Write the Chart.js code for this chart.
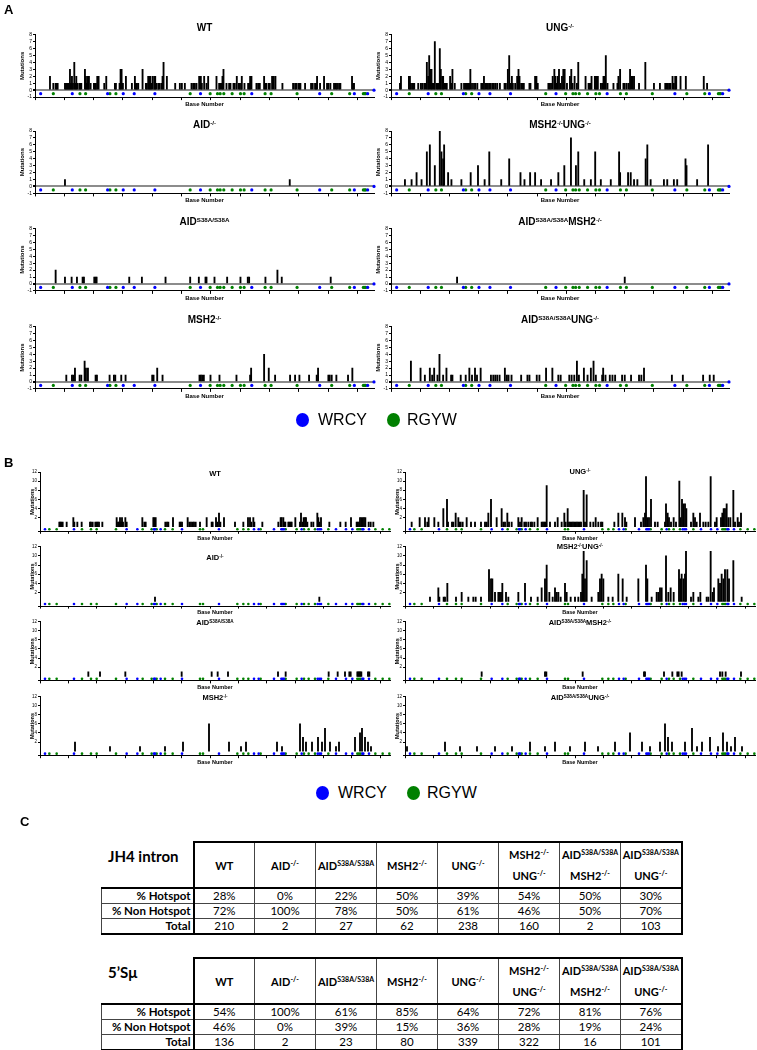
<!DOCTYPE html>
<html>
<head>
<meta charset="utf-8">
<script src="https://cdn.jsdelivr.net/npm/chart.js@4.4.1/dist/chart.umd.min.js"></script>
<style>
  html, body { margin: 0; padding: 0; background: #fff; }
  body { position: relative; width: 757px; height: 1050px; overflow: hidden; font-family: "Liberation Sans", Arial, sans-serif; }
  canvas { position: absolute; }
  .ttl { position: absolute; transform: translate(-50%, -50%); font-weight: bold; white-space: nowrap; line-height: 1; }
  .ttl sup { font-size: 62%; vertical-align: 0.5em; line-height: 0; }
  .panel { position: absolute; font-weight: bold; font-size: 13px; line-height: 1; }
  .legend { position: absolute; height: 20px; font-size: 16px; line-height: 20px; }
  .legend i { position: absolute; top: 3px; width: 13px; height: 14px; border-radius: 50%; }
  .legend span { position: absolute; top: 0; }
  .tname { position: absolute; font-family: Lato, "Open Sans", sans-serif; font-weight: bold; font-size: 15px; line-height: 1; white-space: nowrap; }
  table.pct { position: absolute; border-collapse: collapse; font-family: Lato, "Open Sans", sans-serif; font-size: 11.5px; table-layout: fixed; }
  table.pct td, table.pct th { border: 1px solid #444; padding: 0; text-align: center; white-space: nowrap; }
  table.pct td { height: 14px; line-height: 14px; }
  table.pct th { font-size: 11px; line-height: 21px; height: 44px; border-bottom: 2px solid #000; }
  table.pct th sup { font-size: 7px; vertical-align: 4px; line-height: 0; }
  table.pct td.lab { text-align: right; font-weight: bold; padding-right: 2px; border-right: 2px solid #000; }
  table.pct th.lab { border: none; border-right: 2px solid #000; border-bottom: 2px solid #000; }
  table.pct tr:first-child th:not(.lab) { border-top: 2px solid #000; }
  table.pct th:last-child, table.pct td:last-child { border-right: 2px solid #000; }
  table.pct tr:last-child td { border-bottom: 2px solid #000; }
</style>
</head>
<body>

<script>
// hotspot motifs along the JH4 intron (panel A) and 5'Sμ (panel B), in base numbers
const wrcyA = [8.5, 56, 109, 132.5, 149, 180, 248.5, 325.5, 427.5, 479.5, 499.5];
const rgywA = [27.5, 67.5, 76, 112.5, 121.5, 233, 263, 274, 278, 283.5, 296, 308.5, 314, 345.5, 354.5, 393.5, 445.5, 472.5, 493, 495, 496.5];
const wrcyAEnd = [509];
const wrcyB = [7.5, 51, 130, 146, 171, 172.5, 181, 213, 268.5, 321, 328, 351, 362, 364, 366, 392.5, 416.5, 419, 421.5, 444, 459, 468.5, 483.5, 485, 493.5];
const rgywB = [14, 25, 63, 76.5, 85, 114, 154, 167.5, 175, 187.5, 199, 240, 244.5, 296, 305, 312.5, 331, 368.5, 385, 396, 403, 412.5, 432.5, 476, 478.5, 481, 503, 514, 524];

// mutations per base, panel A (JH4 intron): [base, count]
const jh4WT = [[22.5,2],[27.5,1],[31,1],[32.5,1],[34,1],[45,1],[46.5,1],[48,1],[49.5,1],[51,1],[52.5,3],[54,1],[55.5,2],[57,1],[59,4],[60.5,1],[62,2],[63.5,1],[66.5,1],[68,1],[69.5,1],[75,3],[76.5,2],[78,1],[79.5,2],[81,2],[83.5,1],[88.5,1],[90,1],[91.5,1],[93.5,2],[95.5,2],[104,1],[107,2],[120,1],[121.5,1],[127,1],[128.5,3],[130,3],[132,1],[136.5,2],[145.5,1],[150,2],[151.5,1],[153,1],[155,1],[161.5,3],[166.5,1],[168,1],[170,2],[171.5,2],[173,2],[174.5,1],[176.5,2],[179,2],[180.5,2],[182,1],[185,1],[186.5,1],[189.5,1],[191.5,2],[193,4],[198,2],[210.5,1],[217.5,1],[220.5,1],[225,1],[235,1],[237.5,1],[240,1],[242.5,1],[246.5,2],[249,2],[250.5,1],[254,2],[257.5,1],[260,2],[272.5,2],[276.5,1],[278,1],[280,1],[281.5,2],[283,3],[287.5,1],[291.5,1],[293.5,1],[298,1],[300,1],[303,2],[306,1],[307.5,1],[309.5,1],[310.5,2],[314.5,1],[320,1],[322,1],[323,2],[325,2],[332.5,1],[335,1],[337.5,1],[344,2],[346,1],[347.5,1],[351,1],[352.5,1],[356,2],[358.5,2],[361,2],[371.5,1],[387.5,1],[390.5,1],[392.5,1],[395.5,1],[397.5,1],[398.5,1],[405.5,1],[414.5,1],[417,1],[420.5,1],[422,1],[423.5,2],[428,1],[434,2],[438.5,1],[440.5,1],[443.5,1],[449,1],[451.5,1],[453.5,1],[456.5,1],[458.5,1],[476,2],[477.5,1],[479,1]];
const jh4UNG = [[13.5,1],[15,2],[27,2],[28.5,2],[30,1],[32,1],[33.5,1],[35,1],[41,1],[45,1],[47,1],[50,1],[52,1],[54,4],[56,2],[57.5,5],[59.5,3],[61,3],[62.5,1],[64.5,1],[66,7],[68.5,1],[70,1],[71.5,1],[73.5,6],[75,3],[77,2],[78.5,2],[80,1],[82.5,1],[84,1],[89,2],[91,1],[92.5,3],[96,1],[106,1],[110,1],[112,1],[113.5,1],[115,1],[116.5,1],[118,1],[119.5,3],[122,1],[125,1],[127,1],[130,1],[136,1],[138,1],[140,2],[142,1],[144,1],[146,1],[148,1],[150,1],[152.5,1],[155,1],[157.5,1],[160,1],[164,1],[171,1],[173,1],[176,3],[178,5],[180,1],[182,2],[183.5,1],[187,1],[190,2],[192,3],[193.5,2],[196,1],[198.5,1],[200,1],[208.5,1],[210,1],[217,2],[219,2],[221,1],[237,1],[239,1],[241,1],[243.5,2],[246,3],[247.5,2],[249.5,1],[251,2],[253,3],[255,1],[257.5,2],[259.5,3],[261.5,3],[265,1],[269.5,2],[271.5,3],[273.5,1],[276.5,2],[280,1],[282,4],[293,2],[297.5,1],[299,1],[300.5,1],[302,2],[307,2],[308.5,2],[310,2],[311.5,2],[316,1],[318,1],[320,2],[321.5,2],[323.5,5],[326,1],[335,1],[341,1],[342.5,2],[345,3],[350,1],[352,1],[355,1],[358,1],[360,3],[362,2],[364,2],[366,2],[373.5,1],[383,4],[396,1],[405,1],[413,1],[415,1],[417,1],[419,1],[421,1],[424,2],[426,1],[428,2],[429.5,2],[436,2],[444,2],[471,2],[476,1]];
const jh4AID = [[45,1],[382.5,1]];
const jh4MSH2UNG = [[21,1],[31,1],[38.5,2],[46,1],[54,5],[58.5,6],[66,3],[73.5,8],[76,5],[78.5,4],[80,6],[86,2],[91,1],[106,1],[120,2],[131,3],[141,1],[148,5],[166,1],[178,4],[195,2],[201,1],[209.5,2],[217,2],[226,1],[241,1],[252,2],[261,3],[271,7],[278.5,3],[282,5],[291,1],[301,1],[307.5,5],[316,1],[331,1],[343.5,5],[345,2],[357,2],[361,2],[366,1],[371,1],[383.5,4],[386,6],[391,1],[411,1],[416,1],[426,1],[431,1],[443.5,4],[445,3],[461,1],[477.5,6]];
const jh4S38A = [[31,2],[45,1],[55,1],[63,1],[71.5,1],[73.5,1],[89,1],[91,1],[92.5,1],[141.5,1],[160.5,1],[196,1],[233,1],[246,1],[256,1],[257.5,1],[269.5,1],[288.5,1],[308.5,1],[319.5,1],[321.5,1],[346,1],[364,2],[370.5,1],[444,1]];
const jh4S38AMSH2 = [[99.5,1],[352,1]];
const jh4MSH2 = [[47,1],[55.5,1],[57.5,1],[60,2],[67,1],[69.5,1],[74.5,3],[76.5,2],[79.5,2],[91,1],[93,1],[112,1],[118.5,1],[120.5,1],[129.5,1],[136,1],[176,1],[178,1],[183.5,2],[191.5,1],[247,1],[249,1],[251,1],[253.5,1],[263.5,1],[277,1],[302.5,1],[323,1],[324.5,2],[344,4],[351,2],[360.5,1],[383,1],[390.5,1],[397,1],[411.5,1],[423,1],[425,2],[440.5,1],[442.5,1],[445.5,1],[452.5,1],[470,1],[476.5,2]];
const jh4S38AUNG = [[30,3],[44.5,2],[51,1],[58.5,2],[62,1],[65,2],[70,1],[73,4],[78.5,1],[83.5,2],[90.5,1],[92.5,1],[105,1],[112.5,1],[118,2],[122,1],[126.5,2],[129.5,1],[135,2],[150.5,1],[154,1],[157,1],[160,1],[163.5,1],[171.5,2],[174.5,1],[177,1],[181.5,1],[196,1],[205.5,1],[208.5,1],[219.5,1],[223.5,1],[233.5,2],[243,2],[252,1],[255.5,1],[268.5,1],[272,1],[276,1],[280,3],[283,1],[290.5,2],[296,1],[301,2],[305,3],[308.5,1],[318,1],[319.5,2],[323,1],[329.5,1],[333.5,1],[337.5,1],[348,1],[352,1],[361.5,1],[373.5,1],[377,1],[381,2],[423,1],[439.5,1],[470,1],[480,1],[486,1]];

// mutations per base, panel B (5'Sμ): [base, count]
const smuWT = [[29,1],[30.5,1],[32,1],[34,1],[40,1],[50,2],[51.5,1],[56,1],[62.5,1],[75,1],[76.5,1],[79,1],[83,1],[85,1],[86.5,1],[88.5,1],[93.5,1],[115,2],[117,1],[118.5,1],[120,2],[121.5,1],[123,2],[124.5,1],[128,2],[130,1],[153.5,2],[156.5,1],[158.5,1],[170,2],[171.5,2],[173.5,2],[188,1],[190.5,1],[192.5,1],[199.5,2],[209.5,1],[211,1],[213,1],[221.5,2],[224,1],[226.5,1],[229,1],[231,1],[233.5,1],[240,1],[250,2],[257.5,1],[259,1],[264,2],[266,1],[268.5,3],[270.5,1],[276,2],[292.5,1],[305,1],[312,2],[315,2],[317,1],[320,2],[321.5,1],[333.5,1],[357.5,1],[361,2],[362.5,2],[365,2],[366.5,1],[368,1],[372.5,1],[374,1],[376,1],[377.5,1],[383,2],[390,1],[391.5,3],[394,1],[395.5,2],[397.5,2],[399,2],[401,1],[407,1],[410,1],[416,3],[417.5,2],[419,1],[421.5,2],[434,1],[450.5,1],[458.5,1],[466.5,2],[475,1],[476.5,1],[478.5,1],[480,2],[482,2],[484,2],[486,2],[488,2],[493,1],[496,1],[500,1]];
const smuUNG = [[10,1],[22,2],[30,2],[33.5,1],[35.5,2],[44,2],[50,1],[57.5,4],[63,6],[64.5,1],[70.5,1],[72.5,1],[76,3],[80,2],[81.5,1],[83.5,1],[86.5,1],[92.5,2],[99,1],[105,1],[114,1],[120,1],[122.5,1],[125,3],[129,6],[137.5,2],[145,4],[147.5,1],[150,1],[153.5,3],[156,1],[160,1],[170,2],[172.5,1],[175,2],[179,1],[181.5,1],[185,1],[188.5,1],[190.5,1],[194,1],[199,2],[205,1],[207,1],[209,1],[210.5,1],[212.5,9],[217.5,1],[225,1],[229,2],[235,1],[239,3],[241,1],[244,4],[246,1],[248,1],[250,1],[252,1],[254,1],[256,1],[258,1],[260,1],[262,1],[264,1],[268,8],[270,1],[272.5,7],[278,1],[282.5,1],[286,2],[290,1],[294,1],[296,1],[314,1],[320,3],[326,3],[330,2],[332,1],[345,2],[354,1],[357.5,2],[360,3],[361.5,11],[363.5,2],[366,2],[369,6],[375,1],[379,1],[390,1],[391.5,5],[394,3],[396,2],[399,1],[403,2],[406.5,1],[411.5,10],[413.5,2],[415.5,6],[417.5,5],[420,5],[422,4],[429,1],[432.5,3],[435,2],[437.5,1],[442.5,3],[447.5,1],[451,1],[455,1],[458.5,11],[465,1],[467.5,2],[474,2],[476,3],[478,4],[480,4],[482.5,5],[485,2],[488,2],[492.5,8],[495,1],[499,2],[501,1],[504,3]];
const smuAID = [[172.5,1],[419,1]];
const smuMSH2UNG = [[37.5,1],[50,3],[51.5,1],[58,1],[60,1],[63.5,4],[76.5,1],[85,2],[95,1],[102.5,1],[106,1],[114,1],[126,7],[129,5],[131,5],[135,2],[140,2],[142,2],[144,2],[146,4],[151.5,2],[155,1],[170,2],[180,4],[189,1],[199,1],[205,3],[210,5],[212.5,8],[216.5,2],[221.5,1],[225,3],[227.5,2],[230,2],[233.5,1],[240,4],[242.5,2],[248.5,1],[255,1],[260,1],[264,2],[266,6],[268,11],[270,5],[272.5,9],[280,1],[290,2],[292.5,5],[295,6],[297.5,5],[305,1],[311.5,1],[320,6],[326.5,5],[332.5,1],[350,5],[361.5,8],[363.5,5],[370,1],[377.5,2],[380,2],[382.5,3],[385,3],[391.5,10],[395,2],[398.5,3],[403,2],[411,7],[413,5],[415,6],[417.5,5],[420,6],[421.5,11],[429,1],[432.5,2],[440,1],[443,2],[452.5,1],[455,1],[458.5,11],[461.5,2],[463.5,3],[470,5],[472.5,4],[475,6],[477.5,5],[480,7],[483.5,7],[486,5],[492.5,9],[505,1]];
const smuS38A = [[72.5,1],[90,1],[128,1],[212.5,1],[257.5,1],[266.5,1],[282,1],[357,1],[368.5,1],[433,1],[446.5,1],[457.5,1],[464,1],[466,1],[476,1],[477.5,1],[479,1],[480.5,1],[482,1],[492,1],[494,1]];
const smuS38AMSH2 = [[115,1],[210,1],[212,1],[266.5,1],[358.5,1],[360,1],[388.5,1],[401,1],[408.5,1],[410.5,1],[415,1],[472.5,1],[476,1],[481,1],[504,1]];
const smuMSH2 = [[52.5,2],[105,1],[150,1],[187.5,1],[214.5,2],[253.5,6],[283.5,2],[301.5,1],[309,2],[355.5,2],[363,1],[390,6],[394.5,3],[399,2],[408,2],[417,3],[423,2],[427.5,5],[435,2],[444,1],[448.5,2],[472.5,3],[480,4],[483,5],[487.5,3],[492,2],[496.5,1]];
const smuS38AUNG = [[3,1],[60,2],[82.5,1],[108,1],[135,1],[160.5,1],[187.5,2],[210,1],[225,2],[247.5,1],[270,2],[289.5,1],[315,2],[337.5,4],[355.5,2],[367.5,1],[382.5,2],[390,6],[394.5,3],[400.5,2],[420,2],[430.5,5],[438,1],[445.5,2],[457.5,3],[469.5,1],[477,4],[483,2],[489,1],[495,3],[505.5,1]];

// panel C tables
const tableCols = ['WT', 'AID<sup>-/-</sup>', 'AID<sup>S38A/S38A</sup>', 'MSH2<sup>-/-</sup>', 'UNG<sup>-/-</sup>',
  'MSH2<sup>-/-</sup><br>UNG<sup>-/-</sup>', 'AID<sup>S38A/S38A</sup><br>MSH2<sup>-/-</sup>', 'AID<sup>S38A/S38A</sup><br>UNG<sup>-/-</sup>'];
const rowNames = ['% Hotspot', '% Non Hotspot', 'Total'];
const jh4Hot = ['28%', '0%', '22%', '50%', '39%', '54%', '50%', '30%'];
const jh4NonHot = ['72%', '100%', '78%', '50%', '61%', '46%', '50%', '70%'];
const jh4Total = [210, 2, 27, 62, 238, 160, 2, 103];
const smuHot = ['54%', '100%', '61%', '85%', '64%', '72%', '81%', '76%'];
const smuNonHot = ['46%', '0%', '39%', '15%', '36%', '28%', '19%', '24%'];
const smuTotal = [136, 2, 23, 80, 339, 322, 16, 101];

Chart.defaults.font.family = "'Liberation Sans', Arial, sans-serif";
Chart.defaults.color = '#000';

const panelA = {
  xMax: 509, xStep: 44, yMin: -1, yMax: 8, yStep: 1, dotY: -0.5,
  wrcy: wrcyA, rgyw: rgywA, end: wrcyAEnd,
  yw: 18, padTop: 6, xh: 10.6, plotH: 62.4,
  tickFont: 5, axisFont: 6, titleFont: 10, dotR: 1.6, barW: 1.2, tickLen: 3, yTitlePad: 2
};
const panelB = {
  xMax: 525, xStep: 42.5, yMin: -1, yMax: 12, yStep: 2, dotY: -0.55,
  wrcy: wrcyB, rgyw: rgywB, end: [],
  yw: 12, padTop: 5, xh: 10.3, plotH: 59.3,
  tickFont: 4.5, axisFont: 5.5, titleFont: 7.5, dotR: 1.3, barW: 1.2, tickLen: 2.5, yTitlePad: 1.5
};

const charts = [
  { p: panelA, data: jh4WT,       name: 'WT',                                   l: 35,  r: 374, t: 34.7,  dy: -6.5 },
  { p: panelA, data: jh4UNG,      name: 'UNG<sup>-/-</sup>',                    l: 391, r: 729, t: 34.7,  dy: -6.5 },
  { p: panelA, data: jh4AID,      name: 'AID<sup>-/-</sup>',                    l: 35,  r: 374, t: 131,   dy: -6.5 },
  { p: panelA, data: jh4MSH2UNG,  name: 'MSH2<sup>-/-</sup>UNG<sup>-/-</sup>',  l: 391, r: 729, t: 131,   dy: -6.5 },
  { p: panelA, data: jh4S38A,     name: 'AID<sup>S38A/S38A</sup>',              l: 35,  r: 374, t: 228.5, dy: -6.5 },
  { p: panelA, data: jh4S38AMSH2, name: 'AID<sup>S38A/S38A</sup>MSH2<sup>-/-</sup>', l: 391, r: 729, t: 228.5, dy: -6.5 },
  { p: panelA, data: jh4MSH2,     name: 'MSH2<sup>-/-</sup>',                   l: 35,  r: 374, t: 326.5, dy: -6.5 },
  { p: panelA, data: jh4S38AUNG,  name: 'AID<sup>S38A/S38A</sup>UNG<sup>-/-</sup>', l: 391, r: 729, t: 326.5, dy: -6.5 },
  { p: panelB, data: smuWT,       name: 'WT',                                   l: 40,  r: 390, t: 472,   dy: 2 },
  { p: panelB, data: smuUNG,      name: 'UNG<sup>-/-</sup>',                    l: 405, r: 755, t: 472,   dy: 0 },
  { p: panelB, data: smuAID,      name: 'AID<sup>-/-</sup>',                    l: 40,  r: 390, t: 546.8, dy: 11 },
  { p: panelB, data: smuMSH2UNG,  name: 'MSH2<sup>-/-</sup>UNG<sup>-/-</sup>',  l: 405, r: 755, t: 546.8, dy: 0.5 },
  { p: panelB, data: smuS38A,     name: 'AID<sup>S38A/S38A</sup>',              l: 40,  r: 390, t: 621.6, dy: 1 },
  { p: panelB, data: smuS38AMSH2, name: 'AID<sup>S38A/S38A</sup>MSH2<sup>-/-</sup>', l: 405, r: 755, t: 621.6, dy: 1 },
  { p: panelB, data: smuMSH2,     name: 'MSH2<sup>-/-</sup>',                   l: 40,  r: 390, t: 696.4, dy: 2 },
  { p: panelB, data: smuS38AUNG,  name: 'AID<sup>S38A/S38A</sup>UNG<sup>-/-</sup>', l: 405, r: 755, t: 696.4, dy: 2 }
];

function addDiv(cls, html, style) {
  const d = document.createElement('div');
  d.className = cls;
  d.innerHTML = html;
  Object.assign(d.style, style);
  document.body.appendChild(d);
  return d;
}

function drawChart(c) {
  const p = c.p;
  const b = c.t + p.plotH;
  const cl = Math.round(c.l - p.yw);
  const ct = Math.round(c.t - p.padTop);
  const cw = Math.min(Math.round(c.r + 5 - cl), 757 - cl);
  const ch = Math.round(b + p.xh - ct);
  const yw = c.l - cl, padTop = c.t - ct, padRight = cl + cw - c.r, xh = ct + ch - b;

  const cv = document.createElement('canvas');
  cv.width = cw; cv.height = ch;
  cv.style.left = cl + 'px'; cv.style.top = ct + 'px';
  cv.style.width = cw + 'px'; cv.style.height = ch + 'px';
  document.body.appendChild(cv);

  addDiv('ttl', c.name, { left: ((c.l + c.r) / 2) + 'px', top: (c.t + c.dy) + 'px', fontSize: p.titleFont + 'px' });

  const dots = (xs, y, color) => ({
    type: 'scatter', data: xs.map(x => ({ x: x, y: y })), backgroundColor: color,
    pointRadius: p.dotR, pointBorderWidth: 0, pointHoverRadius: p.dotR, clip: false, order: 1
  });

  new Chart(cv, {
    type: 'bar',
    data: {
      datasets: [
        { type: 'bar', data: c.data.map(d => ({ x: d[0], y: d[1] })), backgroundColor: '#000',
          barThickness: p.barW, borderWidth: 0, order: 2 },
        dots(p.wrcy, p.dotY, '#0000ff'),
        dots(p.rgyw, p.dotY, '#008000'),
        dots(p.end, 0, '#0000ff')
      ]
    },
    options: {
      responsive: false,
      animation: false,
      devicePixelRatio: 1,
      layout: { padding: { top: padTop, right: padRight, left: 0, bottom: 0 } },
      plugins: { legend: { display: false }, tooltip: { enabled: false } },
      scales: {
        x: {
          type: 'linear', min: 0, max: p.xMax, offset: false,
          grid: { offset: false, color: 'rgba(0,0,0,0)', tickColor: '#000', tickLength: p.tickLen },
          border: { display: true, color: '#000', width: 1 },
          ticks: { stepSize: p.xStep, includeBounds: false, autoSkip: false, maxRotation: 0, padding: 0, callback: () => '' },
          title: { display: true, text: 'Base Number', font: { size: p.axisFont, weight: 'bold' }, padding: 0 },
          afterFit: s => { s.height = xh; }
        },
        y: {
          min: p.yMin, max: p.yMax,
          grid: {
            color: g => (g.tick && g.tick.value === 0) ? '#8c8c8c' : 'rgba(0,0,0,0)',
            lineWidth: g => (g.tick && g.tick.value === 0) ? 2 : 1,
            tickColor: '#000', tickLength: 2
          },
          border: { display: true, color: '#000', width: 1 },
          ticks: { stepSize: p.yStep, autoSkip: false, font: { size: p.tickFont }, padding: 1,
            callback: v => (p === panelB && v < 0) ? '' : v },
          title: { display: true, text: 'Mutations', font: { size: p.axisFont, weight: 'bold' }, padding: { top: p.yTitlePad, bottom: 0 } },
          afterFit: s => { s.width = yw; }
        }
      }
    }
  });
}

charts.forEach(drawChart);

// panel letters
addDiv('panel', 'A', { left: '4px', top: '3px' });
addDiv('panel', 'B', { left: '4px', top: '456px' });
addDiv('panel', 'C', { left: '20px', top: '815px' });

// legends
function legend(x, y) {
  const d = addDiv('legend', '', { left: x + 'px', top: (y - 10) + 'px' });
  d.innerHTML = '<i style="left:0;background:#0000ff"></i><span style="left:22px">WRCY</span>' +
    '<i style="left:91px;background:#008000"></i><span style="left:111px">RGYW</span>';
}
legend(296, 420);
legend(316, 793);

// tables
function table(name, top, hot, non, tot) {
  addDiv('tname', name, { left: '108px', top: (top + 8) + 'px' });
  const t = document.createElement('table');
  t.className = 'pct';
  t.style.left = '101px';
  t.style.top = top + 'px';
  let h = '<colgroup><col style="width:92px">' + tableCols.map(() => '<col style="width:61px">').join('') + '</colgroup>';
  h += '<tr><th class="lab"></th>' + tableCols.map(c => '<th>' + c + '</th>').join('') + '</tr>';
  [hot, non, tot].forEach((row, i) => {
    h += '<tr><td class="lab">' + rowNames[i] + '</td>' + row.map(v => '<td>' + v + '</td>').join('') + '</tr>';
  });
  t.innerHTML = h;
  document.body.appendChild(t);
}
table('JH4 intron', 841, jh4Hot, jh4NonHot, jh4Total);
table('5’Sμ', 957, smuHot, smuNonHot, smuTotal);
</script>
</body>
</html>
